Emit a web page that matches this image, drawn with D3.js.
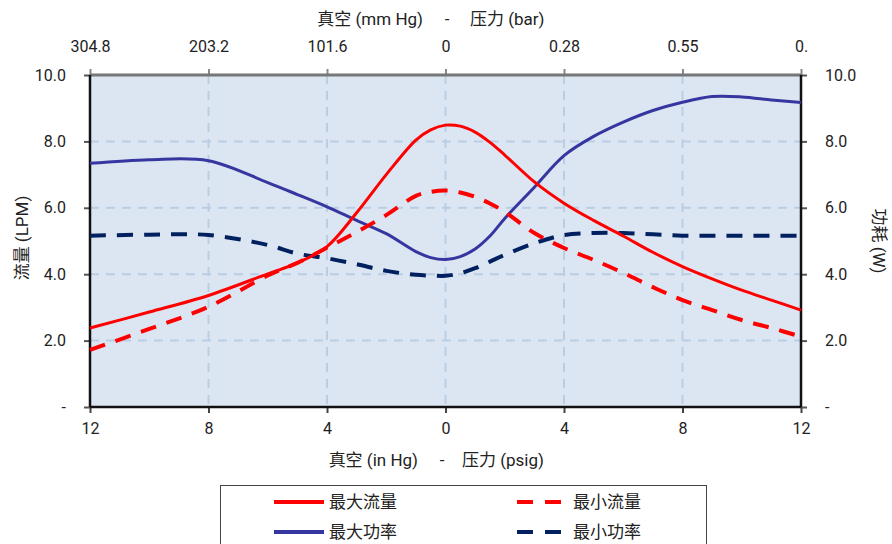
<!DOCTYPE html>
<html>
<head>
<meta charset="utf-8">
<script src="https://cdn.jsdelivr.net/npm/d3@7"></script>
<style>
  body { margin: 0; background: #fff; }
  svg { display: block; }
  text { font-family: Roboto, "Noto Sans CJK SC", sans-serif; fill: #222; }
</style>
</head>
<body>
<svg id="chart" width="892" height="544"></svg>
<script>
// ---------- data ----------
// x position: negative = vacuum (in Hg), positive = pressure (psig)
const xPos     = [-12, -10, -8, -6, -5, -4, -3, -2, -1, -0.5, 0, 0.5, 1, 1.5, 2, 3, 4, 5, 6, 7, 8, 9, 10, 11, 12];
const maxFlow  = [2.38, 2.86, 3.36, 4.01, 4.34, 4.83, 5.85, 7.00, 8.04, 8.35, 8.49, 8.46, 8.28, 7.97, 7.59, 6.78, 6.14, 5.62, 5.15, 4.66, 4.23, 3.86, 3.52, 3.22, 2.92];
const minFlow  = [1.72, 2.35, 3.02, 3.96, 4.34, 4.80, 5.27, 5.78, 6.36, 6.48, 6.52, 6.46, 6.33, 6.13, 5.88, 5.24, 4.79, 4.43, 4.04, 3.61, 3.22, 2.92, 2.62, 2.38, 2.12];
const maxPower = [7.34, 7.45, 7.42, 6.76, 6.40, 6.03, 5.62, 5.22, 4.68, 4.50, 4.44, 4.53, 4.76, 5.15, 5.68, 6.62, 7.57, 8.15, 8.58, 8.93, 9.18, 9.35, 9.34, 9.25, 9.17];
const minPower = [5.16, 5.19, 5.18, 4.88, 4.62, 4.48, 4.30, 4.10, 3.98, 3.96, 3.95, 4.03, 4.18, 4.38, 4.58, 4.93, 5.18, 5.24, 5.24, 5.20, 5.16, 5.16, 5.16, 5.16, 5.16];

const bottomTicks = [-12, -8, -4, 0, 4, 8, 12];
const bottomLabels = ["12", "8", "4", "0", "4", "8", "12"];
const topLabels = ["304.8", "203.2", "101.6", "0", "0.28", "0.55", "0."];
const yTicks = [0, 2, 4, 6, 8, 10];
const yLabels = ["-", "2.0", "4.0", "6.0", "8.0", "10.0"];

const seriesNames = ["最大流量", "最小流量", "最大功率", "最小功率"];

// ---------- layout ----------
const L = 90, R = 801, T = 75, B = 407;
const svg = d3.select("#chart");
const x = d3.scaleLinear().domain([-12, 12]).range([L, R]);
const y = d3.scaleLinear().domain([0, 10]).range([B, T]);

const gridColor = "#b9cde5";

svg.append("rect").attr("x", L).attr("y", T).attr("width", R - L).attr("height", B - T)
  .attr("fill", "#dce6f2");

svg.append("g").selectAll("line").data(bottomTicks.slice(1, -1)).join("line")
  .attr("x1", d => x(d)).attr("x2", d => x(d)).attr("y1", T).attr("y2", B)
  .attr("stroke", gridColor).attr("stroke-width", 2).attr("stroke-dasharray", "9,7");
svg.append("g").selectAll("line").data(yTicks.slice(1, -1)).join("line")
  .attr("x1", L).attr("x2", R).attr("y1", d => y(d)).attr("y2", d => y(d))
  .attr("stroke", gridColor).attr("stroke-width", 2).attr("stroke-dasharray", "9,7");

const fmtIdx = arr => (d, i) => arr[i];
const axisStyle = (g, color) => {
  g.select(".domain").remove();
  g.selectAll(".tick line").attr("stroke", color).attr("stroke-width", 2);
  g.selectAll(".tick text").attr("font-size", 16).attr("fill", "#222");
};

svg.append("g").attr("transform", `translate(0,${B})`)
  .call(d3.axisBottom(x).tickValues(bottomTicks).tickFormat(fmtIdx(bottomLabels)).tickSize(6).tickPadding(10))
  .call(g => axisStyle(g, "#444"));

svg.append("g").attr("transform", `translate(0,${T})`)
  .call(d3.axisTop(x).tickValues(bottomTicks).tickFormat(fmtIdx(topLabels)).tickSize(6).tickPadding(17))
  .call(g => axisStyle(g, "#888"));

svg.append("g").attr("transform", `translate(${L},0)`)
  .call(d3.axisLeft(y).tickValues(yTicks).tickFormat(fmtIdx(yLabels)).tickSize(6).tickPadding(18))
  .call(g => axisStyle(g, "#555"));

svg.append("g").attr("transform", `translate(${R},0)`)
  .call(d3.axisRight(y).tickValues(yTicks).tickFormat(fmtIdx(yLabels)).tickSize(6).tickPadding(18))
  .call(g => axisStyle(g, "#555"));

svg.append("line").attr("x1", L).attr("x2", R).attr("y1", T).attr("y2", T).attr("stroke", "#777").attr("stroke-width", 3);
svg.append("line").attr("x1", L).attr("x2", R).attr("y1", B).attr("y2", B).attr("stroke", "#111").attr("stroke-width", 2.5);
svg.append("line").attr("x1", L).attr("x2", L).attr("y1", T).attr("y2", B).attr("stroke", "#111").attr("stroke-width", 2.5);
svg.append("line").attr("x1", R).attr("x2", R).attr("y1", T).attr("y2", B).attr("stroke", "#111").attr("stroke-width", 2.5);

const styles = [
  { data: maxFlow,  color: "#ff0000", dash: null,    width: 3 },
  { data: minFlow,  color: "#ff0000", dash: "16,11", width: 4 },
  { data: maxPower, color: "#3636a0", dash: null,    width: 3 },
  { data: minPower, color: "#002060", dash: "16,11", width: 4 }
];
const line = d3.line().x(d => x(d[0])).y(d => y(d[1])).curve(d3.curveCatmullRom.alpha(0.5));
const plot = svg.append("g");
[3, 2, 1, 0].forEach(i => {
  const s = styles[i];
  plot.append("path")
    .datum(xPos.map((v, j) => [v, s.data[j]]))
    .attr("d", line).attr("fill", "none")
    .attr("stroke", s.color).attr("stroke-width", s.width)
    .attr("stroke-dasharray", s.dash);
});

function splitTitle(yb, left, right, lx, mx, rx) {
  svg.append("text").attr("x", lx).attr("y", yb).attr("text-anchor", "end").attr("font-size", 17).text(left);
  svg.append("text").attr("x", mx).attr("y", yb).attr("text-anchor", "middle").attr("font-size", 17).text("-");
  svg.append("text").attr("x", rx).attr("y", yb).attr("text-anchor", "start").attr("font-size", 17).text(right);
}
splitTitle(25, "真空 (mm Hg)", "压力 (bar)", 423, 447, 470);
splitTitle(466, "真空 (in Hg)", "压力 (psig)", 418, 442, 462);

svg.append("text").attr("transform", "translate(28,238) rotate(-90)").attr("text-anchor", "middle")
  .attr("font-size", 17).text("流量 (LPM)");
svg.append("text").attr("transform", "translate(873,241) rotate(90)").attr("text-anchor", "middle")
  .attr("font-size", 17).text("功耗 (W)");

const lg = svg.append("g");
lg.append("rect").attr("x", 220.5).attr("y", 485.5).attr("width", 486).attr("height", 80)
  .attr("fill", "#fff").attr("stroke", "#444").attr("stroke-width", 1);
const legPos = [
  { x1: 274, x2: 324, tx: 329, ty: 502 },
  { x1: 517, x2: 562, tx: 573, ty: 502 },
  { x1: 274, x2: 324, tx: 329, ty: 532 },
  { x1: 517, x2: 562, tx: 573, ty: 532 }
];
seriesNames.forEach((name, i) => {
  const p = legPos[i], s = styles[i];
  lg.append("line").attr("x1", p.x1).attr("x2", p.x2).attr("y1", p.ty).attr("y2", p.ty)
    .attr("stroke", s.color).attr("stroke-width", 4)
    .attr("stroke-dasharray", s.dash ? "16,12" : null);
  lg.append("text").attr("x", p.tx).attr("y", p.ty).attr("dy", "0.35em").attr("font-size", 17).text(name);
});
</script>
</body>
</html>
